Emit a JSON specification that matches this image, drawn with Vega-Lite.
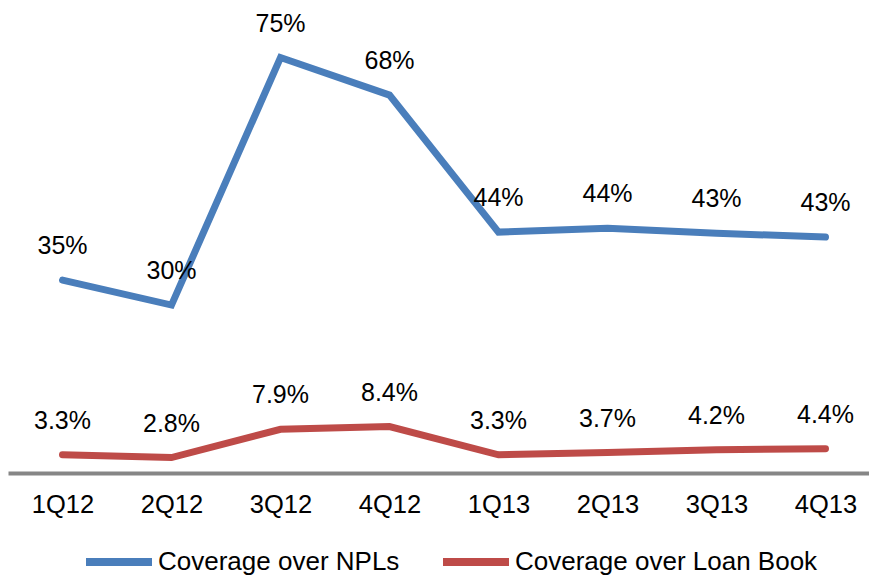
{
  "$schema": "https://vega.github.io/schema/vega-lite/v6.json",
  "autosize": {"type": "none"},
  "padding": {"left": 8, "top": 31, "right": 0, "bottom": 103},
  "width": 872,
  "height": 442,
  "background": "white",
  "config": {
    "view": {"stroke": null},
    "font": "Liberation Sans",
    "text": {"font": "Liberation Sans"}
  },
  "data": {
    "values": [
      {"q": "1Q12", "series": "Coverage over NPLs", "value": 0.349},
      {"q": "2Q12", "series": "Coverage over NPLs", "value": 0.304},
      {"q": "3Q12", "series": "Coverage over NPLs", "value": 0.752},
      {"q": "4Q12", "series": "Coverage over NPLs", "value": 0.684},
      {"q": "1Q13", "series": "Coverage over NPLs", "value": 0.436},
      {"q": "2Q13", "series": "Coverage over NPLs", "value": 0.443},
      {"q": "3Q13", "series": "Coverage over NPLs", "value": 0.434},
      {"q": "4Q13", "series": "Coverage over NPLs", "value": 0.427},
      {"q": "1Q12", "series": "Coverage over Loan Book", "value": 0.033},
      {"q": "2Q12", "series": "Coverage over Loan Book", "value": 0.028},
      {"q": "3Q12", "series": "Coverage over Loan Book", "value": 0.079},
      {"q": "4Q12", "series": "Coverage over Loan Book", "value": 0.084},
      {"q": "1Q13", "series": "Coverage over Loan Book", "value": 0.033},
      {"q": "2Q13", "series": "Coverage over Loan Book", "value": 0.037},
      {"q": "3Q13", "series": "Coverage over Loan Book", "value": 0.042},
      {"q": "4Q13", "series": "Coverage over Loan Book", "value": 0.044}
    ]
  },
  "encoding": {
    "x": {
      "field": "q", "type": "ordinal", "sort": null,
      "scale": {"type": "point", "padding": 0.5},
      "axis": {
        "title": null, "labelAngle": 0, "ticks": false, "grid": false,
        "domainColor": "#868686", "domainWidth": 4,
        "labelFont": "Liberation Sans", "labelFontSize": 25.5, "labelColor": "#000000",
        "labelBaseline": "middle", "labelPadding": 31
      }
    },
    "y": {
      "field": "value", "type": "quantitative",
      "scale": {"domain": [0, 0.8], "nice": false, "zero": true},
      "axis": null
    }
  },
  "layer": [
    {
      "mark": {"type": "line", "strokeWidth": 7, "strokeCap": "round", "strokeJoin": "miter"},
      "encoding": {
        "color": {
          "field": "series", "type": "nominal",
          "scale": {"domain": ["Coverage over NPLs", "Coverage over Loan Book"], "range": ["#4A7EBB", "#BE4B48"]},
          "legend": {
            "title": null, "orient": "none", "legendX": 74, "legendY": 494,
            "direction": "horizontal", "padding": 0,
            "symbolType": "stroke", "symbolSize": 4356, "symbolStrokeWidth": 8,
            "labelFont": "Liberation Sans", "labelFontSize": 26, "labelColor": "#000000",
            "labelLimit": 400, "labelOffset": 2, "columnPadding": 27
          }
        }
      }
    },
    {
      "transform": [{"filter": "datum.series === 'Coverage over NPLs'"}],
      "mark": {"type": "text", "fontSize": 25, "baseline": "middle", "dy": -34, "color": "#000000"},
      "encoding": {"text": {"field": "value", "type": "quantitative", "format": ".0%"}}
    },
    {
      "transform": [{"filter": "datum.series === 'Coverage over Loan Book'"}],
      "mark": {"type": "text", "fontSize": 25, "baseline": "middle", "dy": -34, "color": "#000000"},
      "encoding": {"text": {"field": "value", "type": "quantitative", "format": ".1%"}}
    }
  ]
}
